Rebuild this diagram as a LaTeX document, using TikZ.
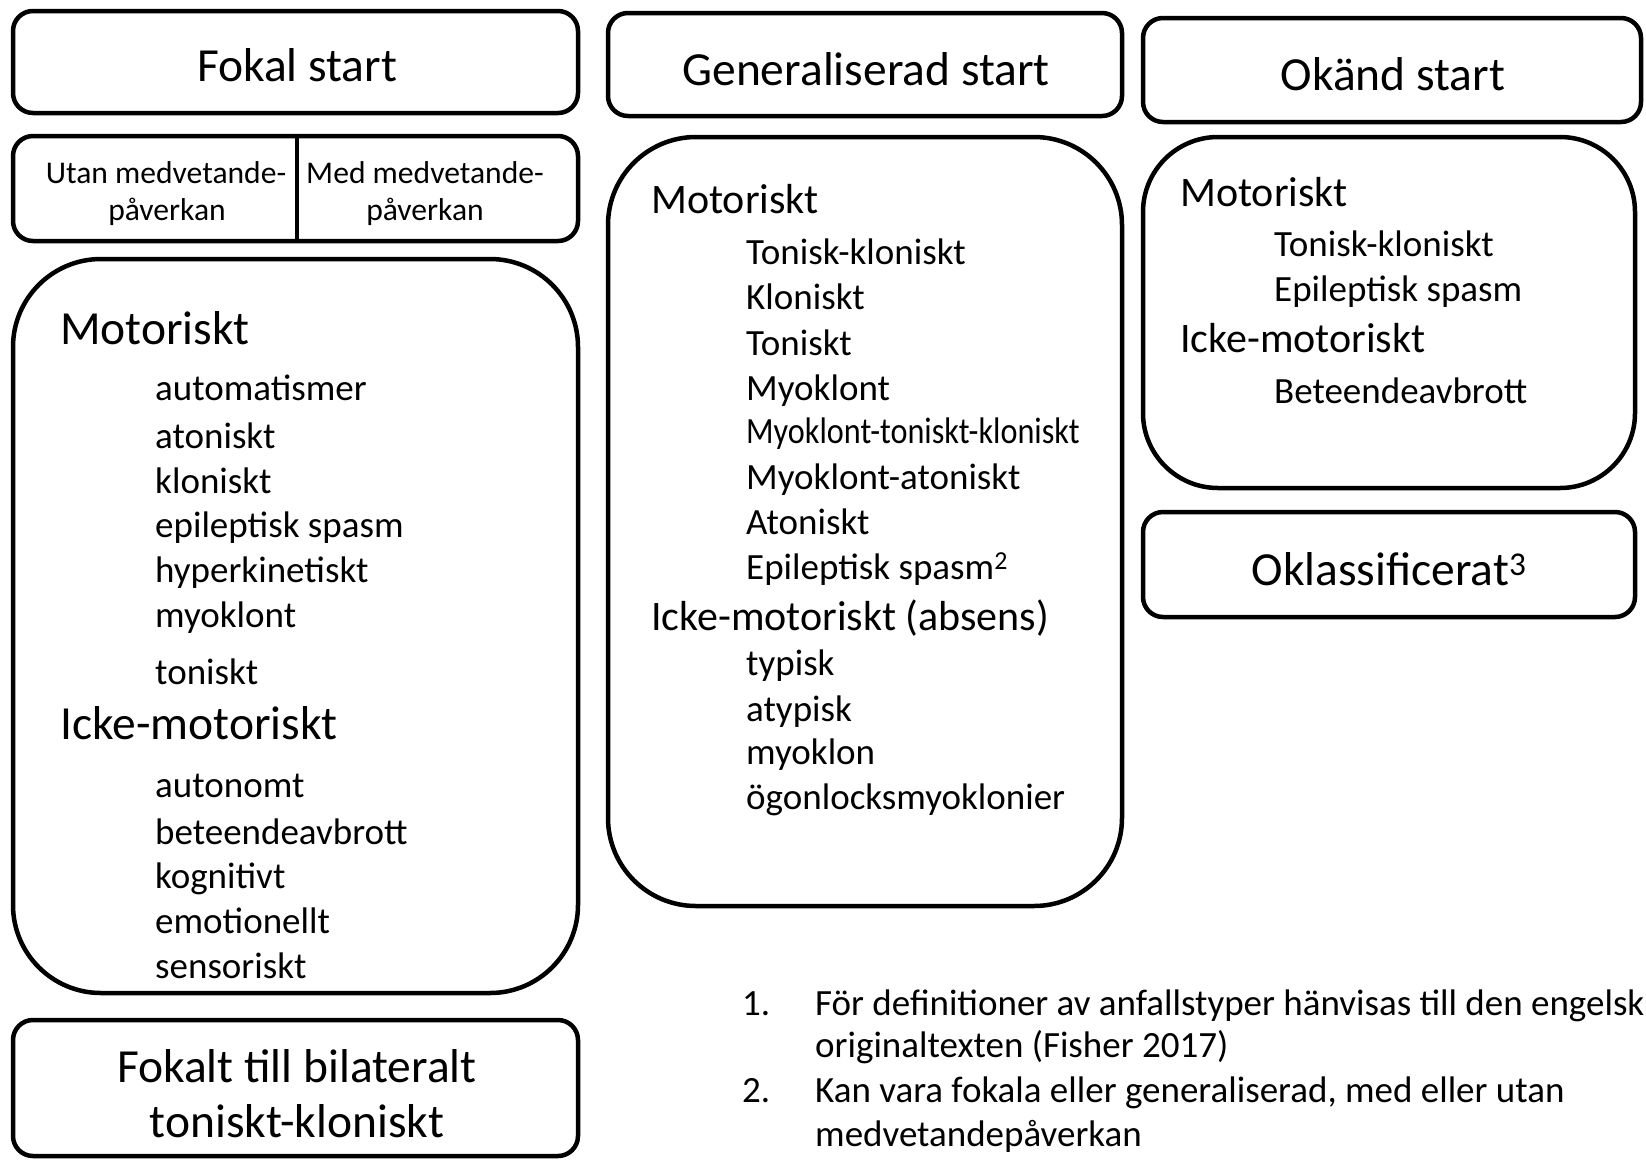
\documentclass[tikz,border=0pt]{standalone}
\usepackage{fontspec}
\setmainfont{Carlito}
\usepackage{graphicx}
\tikzset{
  box/.style={draw=black, line width=4.5pt, rounded corners=20pt, inner sep=0pt, outer sep=0pt},
  bigbox/.style={box, rounded corners=88pt},
  midbox/.style={box, rounded corners=75pt},
  title/.style={font=\fontsize{47.5}{57}\selectfont, inner sep=0pt, anchor=base},
  head/.style={font=\fontsize{47.5}{57}\selectfont, inner sep=0pt, anchor=base west},
  shead/.style={font=\fontsize{42}{50}\selectfont, inner sep=0pt, anchor=base west},
  item/.style={font=\fontsize{37}{44}\selectfont, inner sep=0pt, anchor=base west},
  small/.style={font=\fontsize{31.6}{37}\selectfont, inner sep=0pt, anchor=base},
}
\begin{document}
\begin{tikzpicture}[x=1pt,y=-1pt]
\useasboundingbox[fill=white] (0,0) rectangle (1646,1160);
% boxes
\node[box, minimum width=565pt, minimum height=102pt] (fokal) at (295.5,62) {};
\node[box, minimum width=565pt, minimum height=105pt] (medv) at (295.5,188.5) {};
\coordinate (divx) at (297,0);
\draw[line width=4.5pt] (medv.north -| divx) -- (medv.south -| divx);
\node[bigbox, minimum width=565pt, minimum height=734pt] (leftbig) at (295.5,626) {};
\node[box, minimum width=565pt, minimum height=136pt] (fokalt) at (295.5,1088) {};
\node[box, minimum width=514pt, minimum height=103pt] (gen) at (865,64.5) {};
\node[bigbox, minimum width=514pt, minimum height=769pt] (genbig) at (865,521.5) {};
\node[box, minimum width=498pt, minimum height=104pt] (okand) at (1392,70) {};
\node[midbox, minimum width=492pt, minimum height=351pt] (okbig) at (1389,312.5) {};
\node[box, minimum width=492pt, minimum height=105pt] (okl) at (1389,564.5) {};
% titles
\node[title] (tfokal) at (297,81) {Fokal start};
\node[small] (u1) at (166,183) {Utan medvetande-};
\node[small] (u2) at (167,220) {påverkan};
\node[small] (m1) at (425,183) {Med medvetande-};
\node[small] (m2) at (425,220) {påverkan};
\node[title] (tgen) at (866,85) {Generaliserad start};
\node[title] (tokand) at (1393,90) {Okänd start};
\node[title] (tokl) at (1389,585) {Oklassificerat\textsuperscript{3}};
\node[title] (tfb1) at (297,1082) {Fokalt till bilateralt};
\node[title] (tfb2) at (297,1137) {toniskt-kloniskt};
% left column
\node[head] (lmot) at (60,344) {Motoriskt};
\node[item] (l1) at (155,400) {automatismer};
\node[item] (l2) at (155,448) {atoniskt};
\node[item] (l3) at (155,493) {kloniskt};
\node[item] (l4) at (155,537) {epileptisk spasm};
\node[item] (l5) at (155,582) {hyperkinetiskt};
\node[item] (l6) at (155,627) {myoklont};
\node[item] (l7) at (155,684) {toniskt};
\node[head] (licke) at (60,739) {Icke-motoriskt};
\node[item] (l8) at (155,797) {autonomt};
\node[item] (l9) at (155,844) {beteendeavbrott};
\node[item] (l10) at (155,888) {kognitivt};
\node[item] (l11) at (155,933) {emotionellt};
\node[item] (l12) at (155,978) {sensoriskt};
% generalized column
\node[shead] (gmot) at (651,213) {Motoriskt};
\node[item] (g1) at (746,264) {Tonisk-kloniskt};
\node[item] (g2) at (746,309) {Kloniskt};
\node[item] (g3) at (746,355) {Toniskt};
\node[item] (g4) at (746,400) {Myoklont};
\node[item] (g5) at (746,443) {\scalebox{0.87}[1]{Myoklont-toniskt-kloniskt}};
\node[item] (g6) at (746,489) {Myoklont-atoniskt};
\node[item] (g7) at (746,534) {Atoniskt};
\node[item] (g8) at (746,579) {Epileptisk spasm\textsuperscript{2}};
\node[shead] (gicke) at (651,630) {Icke-motoriskt (absens)};
\node[item] (g9) at (746,675) {typisk};
\node[item] (g10) at (746,721) {atypisk};
\node[item] (g11) at (746,764) {myoklon};
\node[item] (g12) at (746,809) {ögonlocksmyoklonier};
% unknown column
\node[shead] (omot) at (1180,206) {Motoriskt};
\node[item] (o1) at (1274,256) {Tonisk-kloniskt};
\node[item] (o2) at (1274,301) {Epileptisk spasm};
\node[shead] (oicke) at (1180,352) {Icke-motoriskt};
\node[item] (o3) at (1274,403) {Beteendeavbrott};
% footnotes
\node[item] (f1n) at (742,1015) {1.};
\node[item] (f1a) at (815,1015) {För definitioner av anfallstyper hänvisas till den engelsk};
\node[item] (f1b) at (815,1057) {originaltexten (Fisher 2017)};
\node[item] (f2n) at (742,1102) {2.};
\node[item] (f2a) at (815,1102) {Kan vara fokala eller generaliserad, med eller utan};
\node[item] (f2b) at (815,1146) {medvetandepåverkan};
\end{tikzpicture}
\end{document}
